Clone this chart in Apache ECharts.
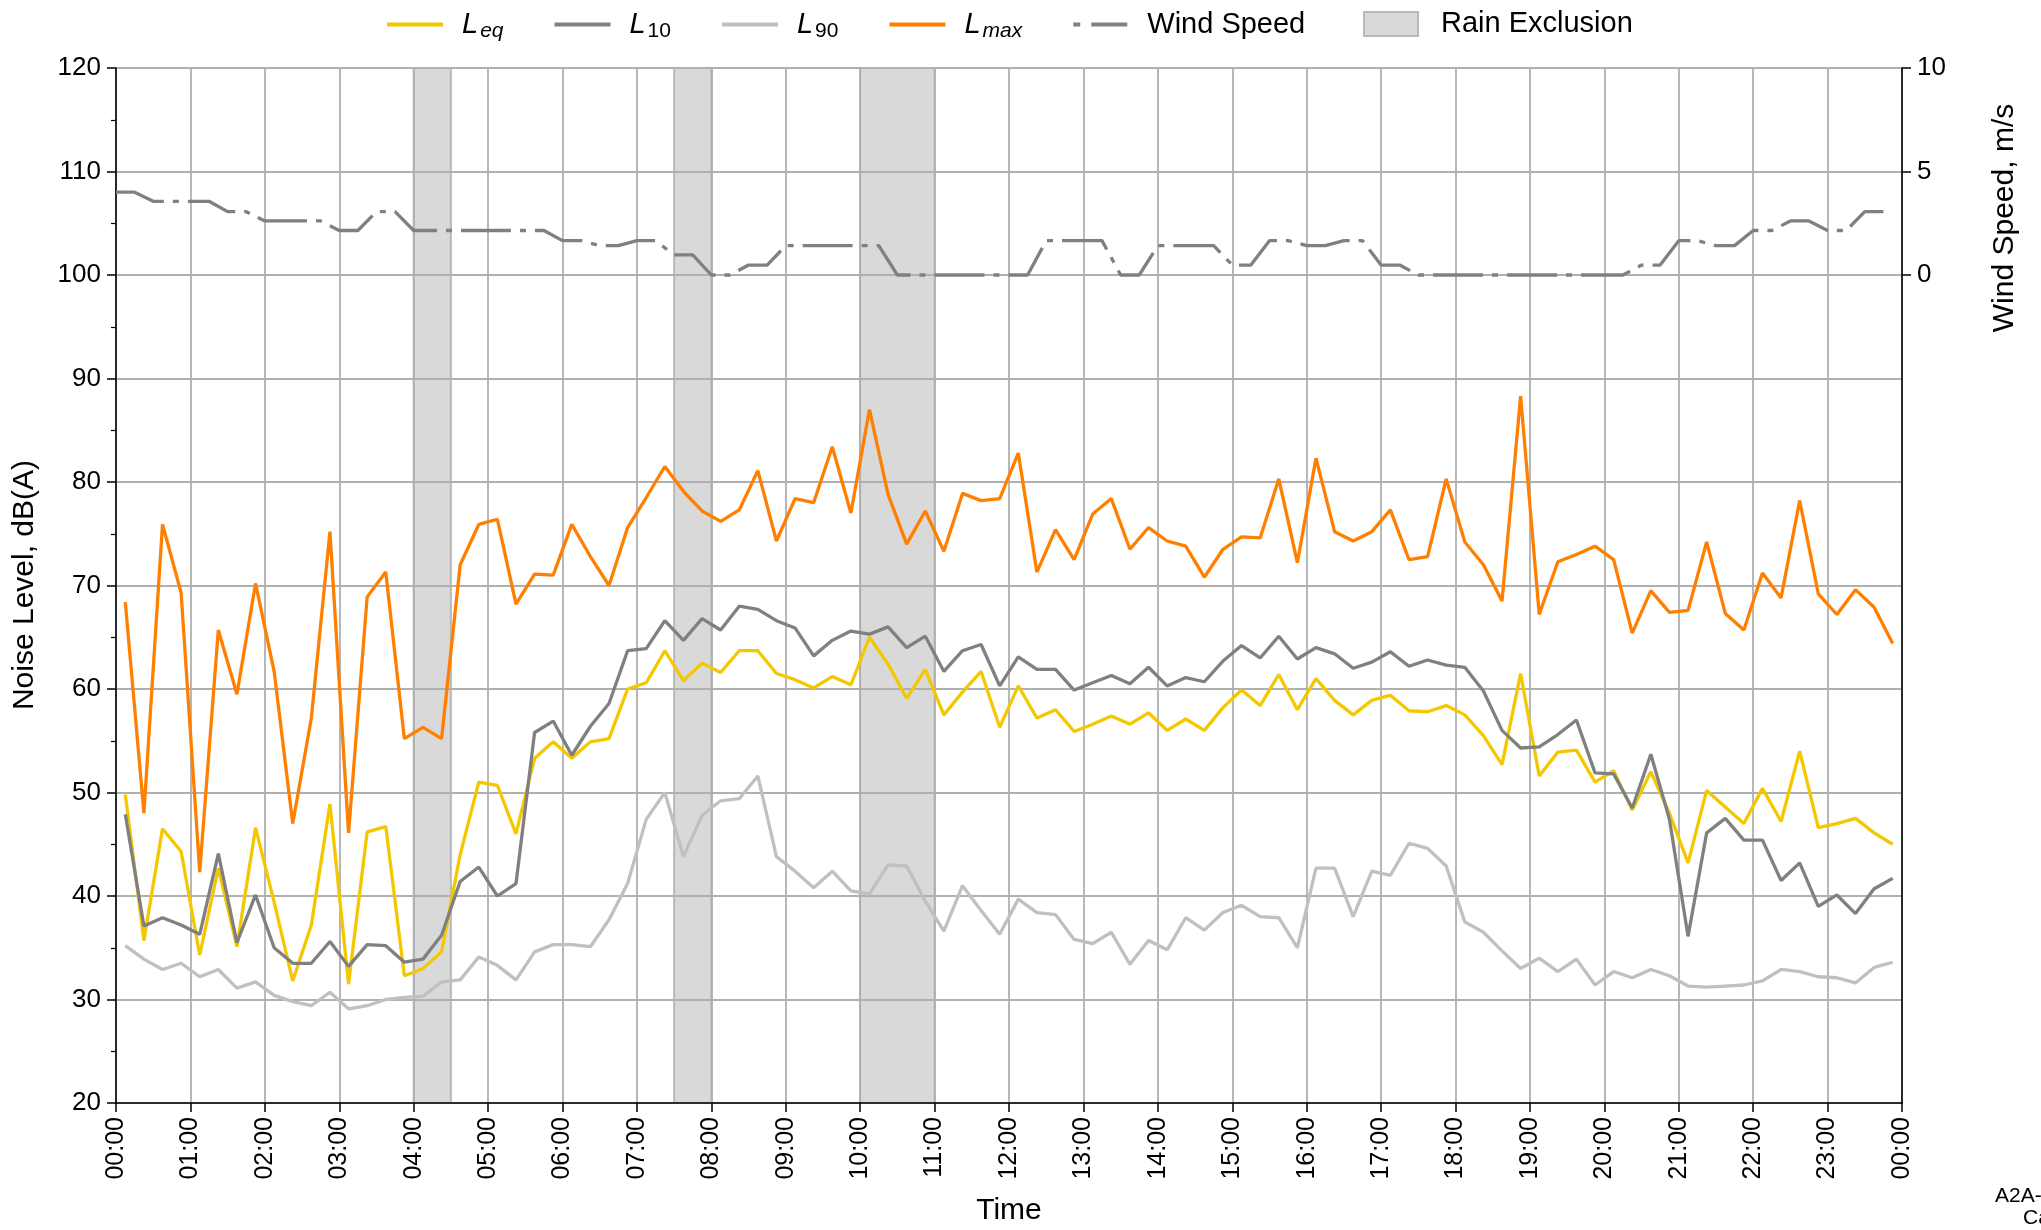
<!DOCTYPE html>
<html><head><meta charset="utf-8">
<script src="https://cdn.jsdelivr.net/npm/echarts@6.0.0/dist/echarts.min.js"></script>
<style>html,body{margin:0;padding:0;background:#fff}#c{width:2041px;height:1230px}</style>
</head><body><div id="c"></div>
<script>
// Tick labels for the hourly x axis (0..24 h)
const hourLabels = ['00:00','01:00','02:00','03:00','04:00','05:00','06:00','07:00','08:00','09:00','10:00','11:00',
  '12:00','13:00','14:00','15:00','16:00','17:00','18:00','19:00','20:00','21:00','22:00','23:00','00:00'];

// 15-minute noise levels, dB(A) (plotted at the centre of each 15-min period)
const leq = [49.8,35.7,46.5,44.3,34.3,42.7,35.1,46.6,39.4,31.8,37.2,48.9,
  31.5,46.2,46.7,32.3,33.0,34.6,44.0,51.0,50.7,46.0,53.3,54.9,
  53.3,54.9,55.2,60.0,60.6,63.7,60.8,62.5,61.6,63.7,63.7,61.5,
  60.9,60.1,61.2,60.4,65.0,62.4,59.1,61.9,57.5,59.7,61.7,56.3,
  60.3,57.2,58.0,55.9,56.6,57.4,56.6,57.7,56.0,57.1,56.0,58.2,
  59.9,58.4,61.4,58.0,61.0,58.9,57.5,58.9,59.4,57.9,57.8,58.4,
  57.5,55.5,52.7,61.5,51.6,53.9,54.1,51.0,52.1,48.3,52.0,48.0,
  43.2,50.2,48.6,47.0,50.4,47.2,54.0,46.6,47.0,47.5,46.1,45.0];
const l10 = [47.9,37.1,37.9,37.2,36.3,44.1,35.5,40.1,35.0,33.5,33.5,35.6,
  33.2,35.3,35.2,33.6,33.9,36.2,41.4,42.8,40.0,41.2,55.8,56.9,
  53.6,56.4,58.6,63.7,63.9,66.6,64.7,66.8,65.7,68.0,67.7,66.6,
  65.9,63.2,64.7,65.6,65.3,66.0,64.0,65.1,61.7,63.7,64.3,60.3,
  63.1,61.9,61.9,59.9,60.6,61.3,60.5,62.1,60.3,61.1,60.7,62.7,
  64.2,63.0,65.1,62.9,64.0,63.4,62.0,62.6,63.6,62.2,62.8,62.3,
  62.1,59.8,56.0,54.3,54.4,55.6,57.0,51.9,51.8,48.5,53.7,47.4,
  36.1,46.1,47.5,45.4,45.4,41.5,43.2,39.0,40.1,38.3,40.7,41.7];
const l90 = [35.2,33.9,32.9,33.5,32.2,32.9,31.1,31.7,30.4,29.8,29.4,30.7,
  29.1,29.4,30.0,30.2,30.3,31.7,31.9,34.1,33.3,31.9,34.6,35.3,
  35.3,35.1,37.7,41.2,47.4,50.0,43.8,47.8,49.2,49.4,51.6,43.8,
  42.4,40.8,42.4,40.5,40.2,43.0,42.9,39.5,36.6,41.0,38.6,36.3,
  39.7,38.4,38.2,35.8,35.4,36.5,33.4,35.7,34.8,37.9,36.7,38.4,
  39.1,38.0,37.9,35.0,42.7,42.7,38.0,42.4,42.0,45.1,44.6,42.9,
  37.5,36.5,34.7,33.0,34.0,32.7,33.9,31.4,32.7,32.1,32.9,32.3,
  31.3,31.2,31.3,31.4,31.8,32.9,32.7,32.2,32.1,31.6,33.1,33.6];
const lmax = [68.4,48.0,75.9,69.3,42.3,65.7,59.5,70.2,61.7,47.0,57.2,75.2,
  46.1,68.9,71.3,55.2,56.3,55.2,72.0,75.9,76.4,68.2,71.1,71.0,
  75.9,72.8,70.0,75.6,78.5,81.5,79.1,77.2,76.2,77.3,81.1,74.3,
  78.4,78.0,83.4,77.0,87.0,78.8,74.0,77.2,73.3,78.9,78.2,78.4,
  82.8,71.3,75.4,72.5,76.9,78.4,73.5,75.6,74.3,73.8,70.8,73.5,
  74.7,74.6,80.3,72.2,82.3,75.2,74.3,75.2,77.3,72.5,72.8,80.3,
  74.2,72.0,68.5,88.3,67.2,72.3,73.0,73.8,72.5,65.4,69.5,67.4,
  67.6,74.2,67.3,65.7,71.2,68.8,78.2,69.2,67.2,69.6,67.9,64.4];

// Wind speed, m/s, at the start of each 15-min period
const windSpeed = [4.0,4.0,3.56,3.56,3.56,3.56,3.06,3.06,2.61,2.61,2.61,2.61,2.15,2.15,3.06,3.06,
  2.15,2.15,2.15,2.15,2.15,2.15,2.15,2.15,1.66,1.66,1.42,1.42,1.66,1.66,0.97,0.97,
  0,0,0.48,0.48,1.42,1.42,1.42,1.42,1.42,1.42,0,0,0,0,0,0,
  0,0,1.66,1.66,1.66,1.66,0,0,1.42,1.42,1.42,1.42,0.48,0.48,1.66,1.66,
  1.42,1.42,1.66,1.66,0.48,0.48,0,0,0,0,0,0,0,0,0,0,
  0,0,0.48,0.48,1.66,1.66,1.42,1.42,2.15,2.15,2.61,2.61,2.15,2.15,3.06,3.06];

// Rain exclusion periods, hours
const rainPeriods = [[4, 4.5], [7.5, 8], [10, 11]];
const windTicks = [0, 5, 10];

const noiseX = k => (7.5 + 15 * k) / 60;
const windX = k => (15 * k) / 60;
const pairs = (arr, fx) => arr.map((v, k) => [fx(k), v]);

const FONT = '"Liberation Sans", Arial, sans-serif';
const legendNames = {
  'Leq': '{i|L}{s|eq}', 'L10': '{i|L}{n|10}', 'L90': '{i|L}{n|90}', 'Lmax': '{i|L}{s|max}'
};
const rich = {
  i: {fontStyle: 'italic', fontSize: 29, lineHeight: 34, fontFamily: FONT, color: '#000'},
  s: {fontStyle: 'italic', fontSize: 21, lineHeight: 20, padding: [14, 0, 0, 2], fontFamily: FONT, color: '#000'},
  n: {fontStyle: 'normal', fontSize: 21, lineHeight: 20, padding: [14, 0, 0, 2], fontFamily: FONT, color: '#000'}
};

const lineSeries = (name, data, color) => ({
  name, type: 'line', data, showSymbol: false, symbol: 'none',
  lineStyle: {color, width: 3.3}, itemStyle: {color}, color, z: 3, silent: true
});

const chart = echarts.init(document.getElementById('c'), null, {renderer: 'canvas'});
chart.setOption({
  animation: false,
  backgroundColor: '#fff',
  textStyle: {fontFamily: FONT},
  grid: {left: 116, right: 139, top: 68, bottom: 127, show: true, borderColor: '#000', borderWidth: 1.5, backgroundColor: 'transparent'},
  legend: [{
    left: 387, top: 7, padding: 0, itemWidth: 56, itemHeight: 4, itemGap: 51,
    selectedMode: false,
    itemStyle: {borderWidth: 0},
    textStyle: {fontSize: 29, fontFamily: FONT, color: '#000', lineHeight: 34, padding: [0, 0, 0, 14], rich},
    formatter: n => legendNames[n] || n,
    data: [
      {name: 'Leq', icon: 'rect'},
      {name: 'L10', icon: 'rect'},
      {name: 'L90', icon: 'rect'},
      {name: 'Lmax', icon: 'rect'},
      {name: 'Wind Speed', icon: 'path://M2 0H9V4H2Z M20 0H56V4H20Z'}
    ]
  }, {
    left: 1363, top: 7, padding: 0, itemWidth: 54, itemHeight: 24,
    selectedMode: false,
    textStyle: {fontSize: 29, fontFamily: FONT, color: '#000', lineHeight: 34, padding: [0, 0, 0, 18]},
    data: [{name: 'Rain Exclusion', icon: 'rect', itemStyle: {color: '#d9d9d9', borderColor: '#b9b9b9', borderWidth: 2}}]
  }],
  xAxis: {
    type: 'value', min: 0, max: 24, interval: 1,
    axisLine: {show: true, onZero: false, lineStyle: {color: '#000', width: 1.5}},
    axisTick: {show: true, length: 9, lineStyle: {color: '#000', width: 1.5}},
    axisLabel: {rotate: 90, fontSize: 25, color: '#000', margin: 14, fontFamily: FONT,
      formatter: v => hourLabels[Math.round(v)]},
    splitLine: {show: true, lineStyle: {color: '#b0b0b0', width: 1.8}}
  },
  yAxis: [{
    type: 'value', min: 20, max: 120, interval: 10,
    axisLine: {show: true, lineStyle: {color: '#000', width: 1.5}},
    axisTick: {show: true, length: 9, lineStyle: {color: '#000', width: 1.5}},
    minorTick: {show: true, splitNumber: 2, length: 5, lineStyle: {color: '#000', width: 1.2}},
    axisLabel: {fontSize: 26, color: '#000', margin: 15, fontFamily: FONT},
    splitLine: {show: true, lineStyle: {color: '#b0b0b0', width: 1.8}}
  }, {
    type: 'value', min: -40, max: 10, interval: 5, position: 'right',
    axisLine: {show: true, lineStyle: {color: '#000', width: 1.5}},
    axisTick: {show: true, length: 9, customValues: windTicks, lineStyle: {color: '#000', width: 1.5}},
    axisLabel: {fontSize: 26, color: '#000', margin: 15, fontFamily: FONT, customValues: windTicks},
    splitLine: {show: false}
  }],
  series: [
    {
      name: 'Rain Exclusion', type: 'line', data: [], z: -1, silent: true,
      color: '#d9d9d9',
      markArea: {
        silent: true, z: -1,
        itemStyle: {color: '#d9d9d9', borderColor: '#b9b9b9', borderWidth: 2, opacity: 1},
        label: {show: false},
        data: rainPeriods.map(p => [{xAxis: p[0]}, {xAxis: p[1]}])
      }
    },
    lineSeries('Leq', pairs(leq, noiseX), '#f4c800'),
    lineSeries('L10', pairs(l10, noiseX), '#808080'),
    lineSeries('L90', pairs(l90, noiseX), '#c0c0c0'),
    lineSeries('Lmax', pairs(lmax, noiseX), '#ff7f00'),
    {
      name: 'Wind Speed', type: 'line', yAxisIndex: 1, data: pairs(windSpeed, windX),
      showSymbol: false, symbol: 'none', color: '#808080', silent: true, z: 3,
      lineStyle: {color: '#808080', width: 3.3, type: [50, 9, 6, 9], cap: 'butt'}
    }
  ],
  graphic: [
    {type: 'text', x: 25, y: 585, rotation: Math.PI / 2,
      style: {text: 'Noise Level, dB(A)', x: 0, y: 0, align: 'center', verticalAlign: 'middle', font: '30px ' + FONT, fill: '#000'}},
    {type: 'text', x: 2005, y: 218, rotation: Math.PI / 2,
      style: {text: 'Wind Speed, m/s', x: 0, y: 0, align: 'center', verticalAlign: 'middle', font: '30px ' + FONT, fill: '#000'}},
    {type: 'text', x: 1009, y: 1211,
      style: {text: 'Time', x: 0, y: 0, align: 'center', verticalAlign: 'middle', font: '30px ' + FONT, fill: '#000'}},
    {type: 'text', x: 1995, y: 1196,
      style: {text: 'A2A-', x: 0, y: 0, align: 'left', verticalAlign: 'middle', font: '21px ' + FONT, fill: '#000'}},
    {type: 'text', x: 2023, y: 1218,
      style: {text: 'Ca', x: 0, y: 0, align: 'left', verticalAlign: 'middle', font: '21px ' + FONT, fill: '#000'}}
  ]
});
</script></body></html>
